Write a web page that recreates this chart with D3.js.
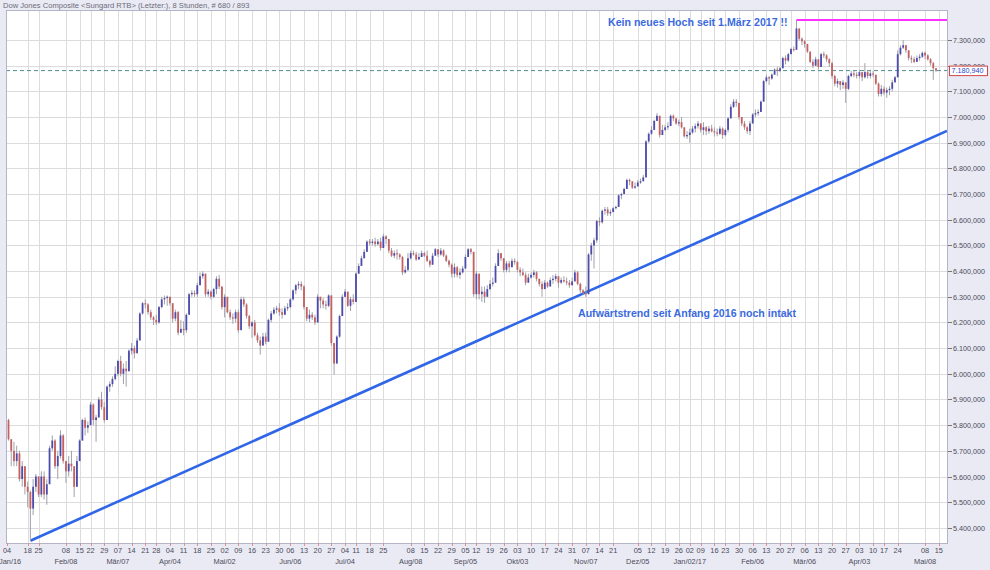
<!DOCTYPE html>
<html><head><meta charset="utf-8">
<script src="https://cdn.jsdelivr.net/npm/d3@7"></script>
<style>body{margin:0;background:#eaeaf4;} svg{display:block;}</style>
</head><body><svg id="c" width="990" height="570"></svg>
<script>
// ---------- data ----------
const titleText = "Dow Jones Composite <Sungard RTB> (Letzter:), 8 Stunden, # 680 / 893";
const startDay = "2016-01-04", endDay = "2017-05-15";
const holidays = ["2016-01-18","2016-02-15","2016-03-25","2016-05-30","2016-07-04","2016-09-05","2016-11-24","2016-12-26","2017-01-02","2017-01-16","2017-02-20","2017-04-14"];
const firstBarIndex = 3;
const firstOpen = 5820;
const closes = [5745,5700,5660,5690,5590,5640,5560,5540,5475,5560,5600,5530,5600,5530,5570,5710,5740,5640,5680,5760,5660,5620,5650,5640,5560,5660,5740,5820,5790,5800,5880,5820,5830,5900,5870,5820,5950,5960,5980,6000,6050,6000,6020,6010,6090,6100,6080,6130,6235,6275,6270,6240,6220,6210,6200,6260,6290,6295,6300,6275,6215,6240,6160,6175,6170,6230,6310,6315,6310,6345,6380,6390,6310,6320,6300,6330,6370,6340,6260,6300,6240,6220,6215,6240,6170,6290,
6270,6225,6185,6200,6150,6130,6110,6145,6125,6210,6235,6250,6255,6240,6230,6255,6260,6290,6325,6345,6350,6340,6260,6215,6230,6220,6200,6300,6285,6270,6265,6305,6120,6040,6145,6225,6300,6320,6265,6290,6280,6390,6420,6450,6475,6515,6510,6515,6505,6515,6490,6535,6525,6480,6460,6470,6465,6455,6395,6405,6450,6470,6465,6445,6455,6470,6460,6440,6425,6460,6485,6465,6480,6460,6440,6425,6390,6415,6385,6395,6410,6455,6485,6475,6310,
6390,6310,6320,6300,6330,6350,6355,6420,6470,6450,6405,6430,6415,6440,6435,6405,6395,6385,6355,6375,6385,6395,6370,6350,6330,6355,6340,6365,6370,6380,6355,6365,6360,6355,6345,6360,6395,6350,6325,6315,6310,6465,6500,6520,6595,6590,6635,6640,6625,6630,6645,6650,6695,6700,6720,6755,6750,6725,6730,6745,6750,6765,6905,6935,6950,6985,7005,6930,6950,6960,6965,7005,6995,6975,6980,6960,6925,6930,6940,6955,6965,6975,6950,6960,6945,
6955,6945,6940,6935,6955,6930,6950,6995,7040,7060,7055,7000,6975,6960,6945,6975,7010,7015,7020,7060,7140,7155,7150,7165,7185,7180,7190,7230,7220,7245,7265,7262,7345,7305,7295,7285,7255,7215,7200,7225,7195,7245,7240,7225,7210,7160,7130,7140,7125,7135,7110,7160,7170,7165,7160,7175,7155,7175,7160,7170,7165,7130,7090,7110,7095,7105,7110,7135,7155,7245,7270,7280,7260,7230,7225,7215,7230,7235,7250,7240,7225,7210,7190,7180.94];
const highs = [5825,5740,5735,5720,5700,5660,5630,5580,5545,5590,5610,5600,5620,5620,5590,5720,5760,5745,5700,5780,5765,5660,5680,5700,5630,5680,5745,5825,5830,5815,5890,5885,5840,5910,5930,5890,5955,5970,5990,6030,6055,6070,6040,6050,6095,6120,6110,6140,6240,6280,6290,6275,6250,6225,6230,6265,6300,6305,6305,6300,6275,6250,6245,6210,6205,6235,6315,6325,6325,6355,6395,6400,6390,6330,6325,6335,6380,6385,6330,6310,6300,6250,6235,6250,6250,6300,
6300,6275,6230,6205,6210,6160,6145,6160,6160,6215,6245,6260,6265,6275,6255,6265,6275,6295,6330,6350,6360,6360,6345,6260,6250,6240,6230,6310,6300,6295,6285,6310,6307,6120,6150,6230,6310,6330,6315,6300,6310,6395,6430,6460,6485,6520,6525,6525,6530,6525,6530,6545,6540,6525,6490,6480,6485,6470,6460,6420,6470,6480,6480,6475,6470,6480,6475,6480,6445,6470,6490,6485,6490,6485,6465,6445,6430,6430,6420,6410,6420,6465,6490,6490,6455,
6400,6380,6340,6340,6345,6365,6375,6430,6485,6470,6450,6440,6440,6450,6450,6440,6415,6410,6395,6390,6395,6405,6400,6370,6360,6365,6360,6375,6385,6390,6380,6375,6380,6375,6365,6375,6405,6400,6355,6330,6340,6470,6510,6530,6600,6610,6640,6650,6650,6640,6650,6655,6700,6705,6725,6760,6760,6750,6745,6755,6760,6775,6910,6940,6965,6990,7015,7000,6970,6970,6980,7010,7010,6995,6990,7000,6960,6945,6955,6965,6975,6985,6975,6980,6965,
6965,6970,6960,6955,6965,6960,6955,7000,7050,7070,7070,7050,7000,6985,6965,6985,7015,7030,7030,7065,7145,7165,7160,7170,7190,7195,7195,7235,7240,7250,7270,7275,7378,7345,7310,7300,7285,7255,7225,7235,7225,7250,7255,7245,7230,7215,7165,7150,7140,7145,7130,7165,7180,7180,7175,7185,7170,7210,7180,7185,7180,7165,7135,7125,7120,7115,7120,7145,7160,7260,7280,7300,7280,7260,7240,7235,7240,7245,7255,7255,7245,7230,7215,7190];
const lows = [5740,5640,5640,5640,5580,5560,5530,5480,5350,5450,5540,5520,5520,5510,5490,5570,5700,5630,5590,5670,5650,5575,5600,5620,5520,5560,5665,5740,5760,5770,5800,5800,5735,5830,5860,5810,5820,5930,5950,5975,5990,5990,5960,5950,6010,6075,6060,6085,6135,6230,6255,6230,6210,6190,6190,6195,6255,6270,6265,6265,6200,6205,6150,6160,6150,6160,6235,6300,6300,6300,6345,6370,6300,6300,6290,6295,6310,6330,6250,6220,6235,6210,6195,6200,6160,6170,
6260,6215,6175,6140,6145,6120,6075,6115,6115,6150,6200,6230,6235,6225,6215,6235,6245,6255,6285,6310,6330,6325,6250,6205,6200,6210,6190,6220,6255,6255,6250,6260,6110,5996,6050,6140,6225,6300,6260,6245,6270,6290,6395,6420,6455,6480,6500,6500,6495,6500,6480,6510,6505,6470,6455,6450,6445,6445,6385,6390,6400,6445,6460,6440,6445,6460,6455,6435,6415,6430,6465,6455,6460,6455,6435,6415,6375,6375,6375,6370,6390,6410,6455,6465,6300,
6290,6290,6280,6276,6305,6325,6340,6355,6440,6440,6395,6395,6395,6425,6425,6395,6380,6380,6345,6355,6370,6375,6360,6340,6300,6335,6335,6345,6350,6360,6335,6350,6355,6345,6335,6345,6360,6345,6315,6310,6300,6395,6440,6410,6510,6575,6585,6620,6615,6615,6630,6640,6650,6680,6705,6720,6735,6720,6720,6730,6740,6750,6770,6900,6930,6960,6985,6920,6935,6945,6950,6985,6985,6970,6965,6955,6920,6915,6900,6935,6940,6955,6940,6930,6930,
6935,6940,6925,6925,6930,6915,6925,6940,6995,7035,7040,6990,6965,6950,6935,6930,6975,7000,7005,7020,7060,7135,7125,7145,7165,7160,7175,7195,7205,7215,7245,7255,7265,7298,7280,7270,7250,7210,7190,7200,7185,7200,7230,7215,7195,7150,7120,7115,7105,7110,7055,7105,7155,7155,7150,7150,7140,7150,7150,7150,7155,7125,7080,7080,7085,7075,7085,7100,7135,7210,7240,7265,7250,7220,7210,7210,7215,7220,7230,7225,7220,7200,7145,7175];
const lastPrice = 7180.94;
const yTicks = [5400,5500,5600,5700,5800,5900,6000,6100,6200,6300,6400,6500,6600,6700,6800,6900,7000,7100,7200,7300];
const weekTicks = ["2016-01-04","2016-01-18","2016-01-25","2016-02-08","2016-02-15","2016-02-22","2016-02-29","2016-03-07","2016-03-14","2016-03-21","2016-03-28","2016-04-04","2016-04-11","2016-04-18","2016-04-25","2016-05-02","2016-05-09","2016-05-16","2016-05-23","2016-05-30","2016-06-06","2016-06-13","2016-06-20","2016-06-27","2016-07-04","2016-07-11","2016-07-18","2016-07-25","2016-08-08","2016-08-15","2016-08-22","2016-08-29","2016-09-05","2016-09-12","2016-09-19","2016-09-26","2016-10-03","2016-10-10","2016-10-17","2016-10-24","2016-10-31","2016-11-07","2016-11-14","2016-11-21","2016-12-05","2016-12-12","2016-12-19","2016-12-26","2017-01-02","2017-01-09","2017-01-16","2017-01-23","2017-01-30","2017-02-06","2017-02-13","2017-02-20","2017-02-27","2017-03-06","2017-03-13","2017-03-20","2017-03-27","2017-04-03","2017-04-10","2017-04-17","2017-04-24","2017-05-08","2017-05-15"];
const monthTicks = ["2016-01-04","2016-02-08","2016-03-07","2016-04-04","2016-05-02","2016-06-06","2016-07-04","2016-08-08","2016-09-05","2016-10-03","2016-11-07","2016-12-05","2017-01-02","2017-02-06","2017-03-06","2017-04-03","2017-05-08"];
const monthLabels = ["Jan/16","Feb/08","Mär/07","Apr/04","Mai/02","Jun/06","Jul/04","Aug/08","Sep/05","Okt/03","Nov/07","Dez/05","Jan/02/17","Feb/06","Mär/06","Apr/03","Mai/08"];
const trendIdx = [11, 346], trendVal = [5350, 6946];
const highMarkDate = "2017-03-01", highMarkValue = 7378;
const note1 = "Kein neues Hoch seit 1.März 2017 !!";
const note2 = "Aufwärtstrend seit Anfang 2016 noch intakt";

// ---------- layout ----------
const L = 6, R = 947, T = 10, B = 543;
const svg = d3.select("#c");
const parse = d3.timeParse("%Y-%m-%d"), fmt = d3.timeFormat("%Y-%m-%d");
const hol = new Set(holidays);
const days = d3.timeDay.range(parse(startDay), d3.timeDay.offset(parse(endDay), 1))
  .filter(d => d.getDay() !== 0 && d.getDay() !== 6 && !hol.has(fmt(d)));
const idxOf = s => d3.bisector(d => d).left(days, parse(s));

const x = d3.scaleLinear().domain([0, days.length - 1]).range([0.3, 0.3 + (days.length - 1) * 2.736]);
const y = d3.scaleLinear().domain([5341, 7417]).range([B, T]);
const de = d3.formatLocale({decimal: ",", thousands: ".", grouping: [3], currency: ["", ""]});
const fnum = de.format(",.3f");

svg.append("rect").attr("width", 990).attr("height", 570).attr("fill", "#eaeaf4");
svg.append("rect").attr("x", L).attr("y", T).attr("width", R - L).attr("height", B - T).attr("fill", "#ffffff");
svg.append("text").attr("x", 3).attr("y", 7.5).attr("font-family", "Liberation Sans, Arial, sans-serif")
  .attr("font-size", 7.6).attr("fill", "#6a6a7a").text(titleText);

// grid
const grid = svg.append("g").attr("stroke", "#dcdcdc").attr("stroke-width", 1);
grid.selectAll("line.h").data(yTicks).join("line")
  .attr("x1", L).attr("x2", R).attr("y1", d => Math.round(y(d)) + 0.5).attr("y2", d => Math.round(y(d)) + 0.5);
const wk = weekTicks.map(s => ({s, i: idxOf(s) < days.length ? idxOf(s) : days.length - 1}));
grid.selectAll("line.v").data(wk).join("line")
  .attr("x1", d => Math.max(L, Math.round(x(d.i))) + 0.5).attr("x2", d => Math.max(L, Math.round(x(d.i))) + 0.5)
  .attr("y1", T).attr("y2", B);

// clip
svg.append("clipPath").attr("id", "pc").append("rect").attr("x", L).attr("y", T).attr("width", R - L).attr("height", B - T);
const plot = svg.append("g").attr("clip-path", "url(#pc)");

// trend line
plot.append("line").attr("x1", x(trendIdx[0])).attr("y1", y(trendVal[0]))
  .attr("x2", x(trendIdx[1])).attr("y2", y(trendVal[1]))
  .attr("stroke", "#2f66e8").attr("stroke-width", 2.6);

// last price dashed line
plot.append("line").attr("x1", L).attr("x2", R).attr("y1", y(lastPrice)).attr("y2", y(lastPrice))
  .attr("stroke", "#4e8e8e").attr("stroke-width", 1).attr("stroke-dasharray", "4,3");

// bars
const bars = closes.map((c, k) => ({i: firstBarIndex + k, o: k ? closes[k - 1] : firstOpen, c, h: highs[k], l: lows[k]}));
const g = plot.append("g");
g.selectAll("line.w").data(bars).join("line")
  .attr("x1", d => x(d.i)).attr("x2", d => x(d.i))
  .attr("y1", d => y(Math.max(d.h, d.o, d.c))).attr("y2", d => y(Math.min(d.l, d.o, d.c)))
  .attr("stroke", "#a0a0ac").attr("stroke-width", 1);
g.selectAll("rect.b").data(bars).join("rect")
  .attr("x", d => x(d.i) - 0.9).attr("width", 1.8)
  .attr("y", d => y(Math.max(d.o, d.c)))
  .attr("height", d => Math.max(1, Math.abs(y(d.o) - y(d.c))))
  .attr("fill", d => d.c >= d.o ? "#4c4cae" : "#c4605e");

// high mark
plot.append("line").attr("x1", x(idxOf(highMarkDate))).attr("x2", R)
  .attr("y1", y(highMarkValue)).attr("y2", y(highMarkValue))
  .attr("stroke", "#ff30ff").attr("stroke-width", 2);

// frame
svg.append("rect").attr("x", L + 0.5).attr("y", T + 0.5).attr("width", R - L).attr("height", B - T)
  .attr("fill", "none").attr("stroke", "#b4b4c8");

// right axis
const ax = svg.append("g").attr("font-family", "Liberation Sans, Arial, sans-serif").attr("font-size", 7.2).attr("fill", "#4a4a5a");
yTicks.forEach(v => {
  const yy = Math.round(y(v)) + 0.5;
  ax.append("line").attr("x1", R + 1).attr("x2", R + 5).attr("y1", yy).attr("y2", yy).attr("stroke", "#777");
  ax.append("text").attr("x", R + 6).attr("y", yy).attr("dy", "0.35em").text(fnum(v));
});
// price box
const py = y(lastPrice);
svg.append("rect").attr("x", 949.5).attr("y", py - 4.5).attr("width", 38).attr("height", 9.5)
  .attr("fill", "#ffffff").attr("stroke", "#d04848");
svg.append("text").attr("x", 951.5).attr("y", py).attr("dy", "0.36em")
  .attr("font-family", "Liberation Sans, Arial, sans-serif").attr("font-size", 7.2).attr("fill", "#2a44d0").text(fnum(lastPrice));

// bottom axis
const bx = svg.append("g").attr("font-family", "Liberation Sans, Arial, sans-serif").attr("font-size", 7.4).attr("fill", "#4a4a5a").attr("text-anchor", "middle");
wk.forEach(d => {
  const xx = Math.max(L + 1, x(d.i));
  bx.append("line").attr("x1", Math.round(xx) + 0.5).attr("x2", Math.round(xx) + 0.5).attr("y1", B).attr("y2", B + 3).attr("stroke", "#e09090");
  bx.append("text").attr("x", xx).attr("y", 553).text(d3.timeFormat("%d")(parse(d.s)));
});
monthTicks.forEach((s, k) => {
  const xx = x(idxOf(s));
  const t = bx.append("text").attr("y", 563.5).text(monthLabels[k]);
  if (xx < 14) t.attr("x", -1).attr("text-anchor", "start"); else t.attr("x", xx);
});

// notes
const nf = "Liberation Sans, Arial, sans-serif";
svg.append("text").attr("x", 608).attr("y", 26).attr("font-family", nf).attr("font-weight", "bold")
  .attr("font-size", 10.6).attr("fill", "#3a6ae0").text(note1);
svg.append("text").attr("x", 578).attr("y", 317).attr("font-family", nf).attr("font-weight", "bold")
  .attr("font-size", 10.6).attr("fill", "#3a6ae0").text(note2);
</script></body></html>
